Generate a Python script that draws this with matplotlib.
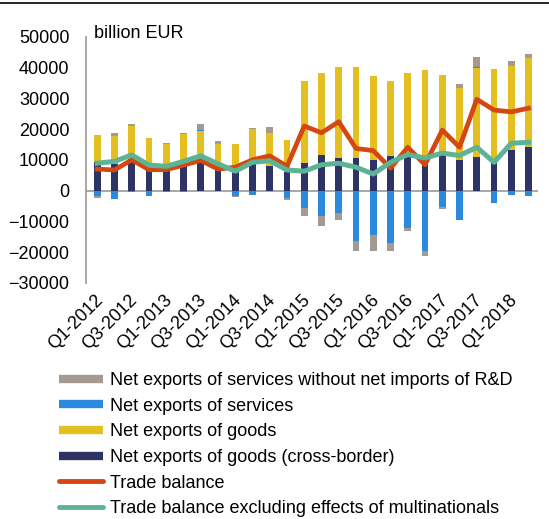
import numpy as np
import matplotlib.pyplot as plt
import matplotlib.transforms as mtransforms
from matplotlib.lines import Line2D

plt.rcParams['font.family'] = ['Liberation Sans', 'DejaVu Sans']

quarters = [f"Q{q}-{y}" for y in range(2012, 2019) for q in range(1, 5)][:26]

# bar segments (billion EUR, as labelled)
goods_cross = [9200, 8500, 10300, 7200, 7000, 8500, 10300, 7000, 6000, 8700, 7900, 6000, 9000,
               11600, 10500, 10500, 10000, 11100, 11000, 11100, 11500, 10000, 11000, 9300, 13300, 14100]
goods_top = [18100, 17900, 20900, 17000, 15200, 18300, 19300, 15000, 15300, 20000, 18700, 16600, 35700,
             38400, 40300, 40300, 37200, 35600, 38300, 39100, 37700, 33300, 39900, 39400, 40500, 43000]
services = [-1600, -2600, -300, -1600, -500, -500, 400, 0, -1700, -1300, 0, -2400, -5700,
            -8100, -7400, -16500, -14600, -16900, -12300, -19800, -5400, -9600, 400, -4100, -1300, -1900]
services_rd = [-800, 700, 700, 0, 400, 400, 1900, 1200, -500, 300, 1900, -500, -2700,
               -3300, -2000, -3200, -4900, -2800, -700, -1500, -700, 1300, 3100, 0, 1600, 1400]
goods = [t - c for t, c in zip(goods_top, goods_cross)]

trade_balance = [7000, 6700, 10000, 6800, 6800, 8300, 9800, 7000, 7600, 10000, 11300, 7900, 21000,
                 18800, 22400, 13700, 13000, 7300, 14100, 8400, 19700, 14100, 29700, 26200, 25600, 26800]
trade_balance_excl = [8900, 9500, 11600, 8300, 7900, 9500, 11300, 8700, 6300, 9200, 9700, 6700, 6300,
                      8400, 8900, 7600, 5400, 9200, 11700, 10600, 12200, 11400, 14100, 9200, 15400, 15700]

c_navy = '#2d3364'
c_yellow = '#e5bf20'
c_blue = '#2b8ade'
c_gray = '#a49a92'
c_red = '#d4480f'
c_green = '#5cb395'

fig = plt.figure(figsize=(5.49, 5.19), dpi=100)
ax = fig.add_axes([0.157, 0.455, 0.823, 0.474])

x = np.arange(len(quarters))
w = 0.4
pos = np.zeros(len(x))
neg = np.zeros(len(x))
for vals, col in [(goods_cross, c_navy), (goods, c_yellow), (services, c_blue), (services_rd, c_gray)]:
    v = np.array(vals, dtype=float)
    bottom = np.where(v >= 0, pos, neg)
    ax.bar(x, v, w, bottom=bottom, color=col, zorder=2)
    pos = np.where(v >= 0, pos + v, pos)
    neg = np.where(v < 0, neg + v, neg)

ax.plot(x, trade_balance, color=c_red, lw=3.4, zorder=3, solid_joinstyle='round')
ax.plot(x, trade_balance_excl, color=c_green, lw=3.6, zorder=4, solid_joinstyle='round')

ax.axhline(0, color='#999999', lw=1.2, zorder=1)
ax.set_ylim(-30000, 50000)
ax.set_xlim(-0.64, 25.55)
ax.set_yticks(range(-30000, 50001, 10000))
ax.tick_params(axis='y', length=0, labelsize=13, pad=12)
ax.set_xticks(x[::2])
ax.set_xticklabels(quarters[::2], rotation=45, ha='right', rotation_mode='anchor', fontsize=13)
ax.tick_params(axis='x', length=0, pad=6)
shift = mtransforms.ScaledTranslation(-3 / 100, 0, fig.dpi_scale_trans)
for lbl in ax.get_xticklabels():
    lbl.set_transform(lbl.get_transform() + shift)
for s in ['top', 'right', 'bottom']:
    ax.spines[s].set_visible(False)
ax.spines['left'].set_color('#999999')
ax.spines['left'].set_linewidth(1.2)

ax.text(0.018, 1.012, 'billion EUR', transform=ax.transAxes, fontsize=13, va='center', ha='left')

fig.add_artist(Line2D([0, 1], [0.994, 0.994], color='black', lw=1.2))

handles = [
    Line2D([], [], color=c_gray, lw=6, solid_capstyle='butt'),
    Line2D([], [], color=c_blue, lw=6, solid_capstyle='butt'),
    Line2D([], [], color=c_yellow, lw=6, solid_capstyle='butt'),
    Line2D([], [], color=c_navy, lw=6, solid_capstyle='butt'),
    Line2D([], [], color=c_red, lw=3.5, solid_capstyle='round'),
    Line2D([], [], color=c_green, lw=3.5, solid_capstyle='round'),
]
labels = ['Net exports of services without net imports of R&D', 'Net exports of services',
          'Net exports of goods', 'Net exports of goods (cross-border)', 'Trade balance',
          'Trade balance excluding effects of multinationals']
fig.legend(handles, labels, loc='upper left', bbox_to_anchor=(0.095, 0.297), frameon=False,
           fontsize=13, handlelength=2.4, handletextpad=0.4, labelspacing=0.48, borderaxespad=0)

fig.savefig('out.png', dpi=100)
